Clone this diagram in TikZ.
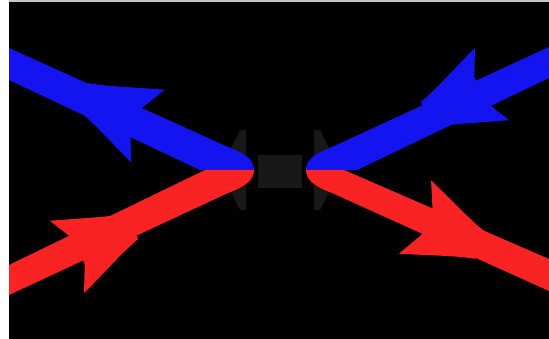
\documentclass[tikz,border=0pt]{standalone}
\definecolor{bl}{RGB}{20,20,240}
\definecolor{rd}{RGB}{250,35,35}
\definecolor{gh}{RGB}{24,24,24}
\tikzset{
  pics/arrowhead/.style={code={
    \fill[#1] (0,40) .. controls (30,29) and (50,20) .. (72,14) -- (72,-14)
      .. controls (50,-20) and (30,-29) .. (0,-40) -- (13,-14) -- (13,14) -- cycle;
  }}
}
\begin{document}
\begin{tikzpicture}[x=1pt,y=-1pt]
\fill[white] (0,0) rectangle (549,339);
\useasboundingbox (0,0) rectangle (549,339);
\fill[gray!45] (9,0) rectangle (549,2);
\fill[black] (9,2) rectangle (549,339);
% faint ghost symbol
\fill[gh] (220,170) -- (240,130) -- (246,130) -- (246,210) -- (240,210) -- cycle;
\fill[gh] (258,155) rectangle (302,188);
\fill[gh] (340,170) -- (320,130) -- (314,130) -- (314,210) -- (320,210) -- cycle;
% bands
\fill[bl] (9,48) -- (228,147) .. controls (247,154) and (254,161) .. (254,170) -- (200,170) -- (9,80) -- cycle;
\fill[rd] (9,265) -- (205,170) -- (254,170) .. controls (254,179) and (247,186) .. (228,193) -- (9,295) -- cycle;
\fill[bl] (549,47) -- (332,147) .. controls (313,154) and (306,161) .. (306,170) -- (357,170) -- (549,78) -- cycle;
\fill[rd] (549,259) -- (344,170) -- (306,170) .. controls (306,179) and (313,186) .. (332,193) -- (549,291) -- cycle;
% arrowheads
\path (148,126) pic[rotate=155.3] {arrowhead=bl};
\path (492,84) pic[rotate=205.2] {arrowhead=bl};
\path (67,257) pic[rotate=25.2] {arrowhead=rd};
\path (415,217) pic[rotate=-23.7] {arrowhead=rd};
\end{tikzpicture}
\end{document}
